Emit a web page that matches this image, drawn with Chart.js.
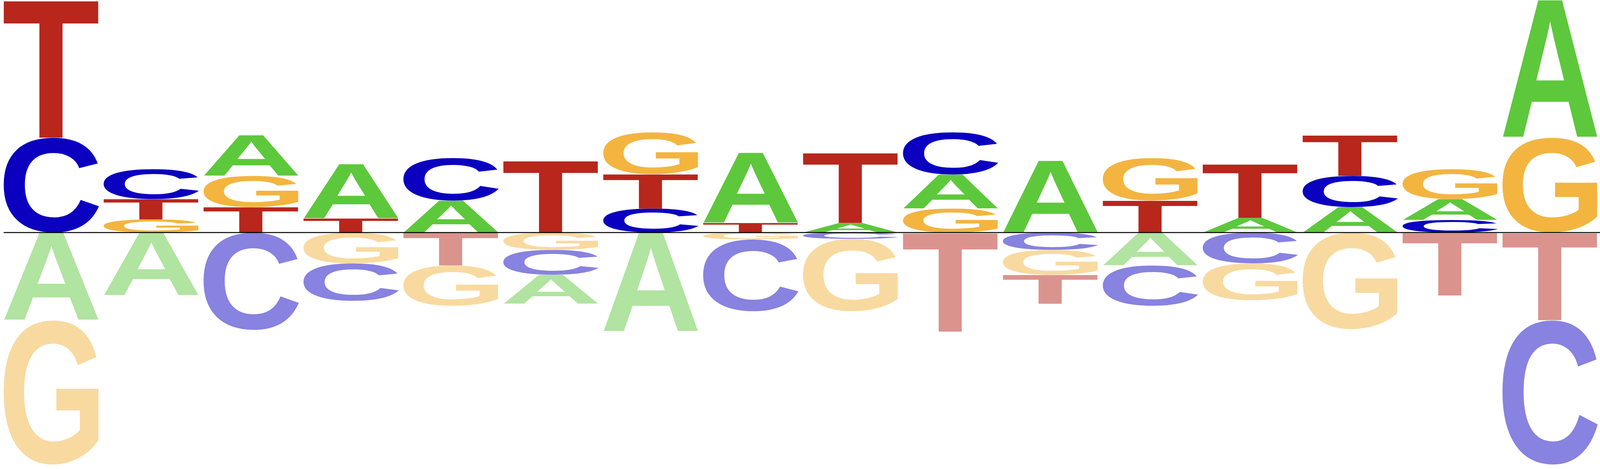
<!DOCTYPE html>
<html>
<head>
<meta charset="utf-8">
<title>Sequence logo</title>
<script src="https://cdn.jsdelivr.net/npm/chart.js@4"></script>
<style>
    html, body { margin: 0; padding: 0; background: #fff; overflow: hidden; }
    #wrap { width: 100vw; height: 100vh; position: relative; }
</style>
</head>
<body>
<div id="wrap"><canvas id="logoChart"></canvas></div>
<script>
// Positions along the motif
var positions = ['1', '2', '3', '4', '5', '6', '7', '8', '9', '10', '11', '12', '13', '14', '15', '16'];
var bases = ['A', 'C', 'G', 'T'];

// Letter heights above the line (bits)
var upA = [0, 0, 0.350, 0.468, 0.275, 0, 0, 0.605, 0.082, 0.293, 0.618, 0, 0.126, 0.219, 0.180, 1.184];
var upC = [0.816, 0.257, 0, 0, 0.366, 0, 0.206, 0, 0, 0.363, 0, 0, 0, 0.268, 0.108, 0];
var upG = [0, 0.113, 0.268, 0, 0, 0, 0.360, 0, 0, 0.206, 0, 0.366, 0, 0, 0.257, 0.816];
var upT = [1.184, 0.175, 0.219, 0.121, 0, 0.618, 0.296, 0.082, 0.605, 0, 0, 0.275, 0.463, 0.350, 0, 0];

// Letter heights below the line (bits)
var downA = [0.754, 0.541, 0, 0, 0, 0.250, 0.852, 0, 0, 0, 0, 0.283, 0, 0, 0, 0];
var downC = [0, 0, 0.837, 0.322, 0, 0.214, 0, 0.618, 0.054, 0, 0.149, 0.347, 0.265, 0, 0, 1.241];
var downG = [1.241, 0, 0, 0.265, 0.347, 0.149, 0, 0.059, 0.623, 0, 0.214, 0, 0.317, 0.831, 0, 0];
var downT = [0, 0, 0, 0, 0.283, 0, 0, 0, 0, 0.852, 0.250, 0, 0, 0, 0.541, 0.754];

var yMax = 2;

var upColors = { A: '#5dc83b', C: '#0b00bf', G: '#f3b540', T: '#b8261c' };
var downColors = { A: '#b0e4a0', C: '#8882e0', G: '#f8daa0', T: '#db938e' };

var upHeights = { A: upA, C: upC, G: upG, T: upT };
var downHeights = { A: downA, C: downC, G: downG, T: downT };

// Smallest letter sits next to the line, tallest furthest away
function stackRanges(heights, sign) {
    var out = {};
    bases.forEach(function (b) { out[b] = []; });
    positions.forEach(function (p, i) {
        var order = bases.filter(function (b) { return heights[b][i] > 0; });
        order.sort(function (a, b) { return heights[a][i] - heights[b][i]; });
        bases.forEach(function (b) { out[b][i] = null; });
        var cum = 0;
        order.forEach(function (b) {
            var h = heights[b][i];
            out[b][i] = sign > 0 ? [cum, cum + h] : [-(cum + h), -cum];
            cum += h;
        });
    });
    return out;
}

var upRanges = stackRanges(upHeights, 1);
var downRanges = stackRanges(downHeights, -1);

var datasets = [];
bases.forEach(function (b) {
    datasets.push({ label: b, letter: b, letterColor: upColors[b], data: upRanges[b] });
    datasets.push({ label: b + ' (below)', letter: b, letterColor: downColors[b], data: downRanges[b] });
});
datasets.forEach(function (ds) {
    ds.backgroundColor = 'rgba(0,0,0,0)';
    ds.borderWidth = 0;
    ds.categoryPercentage = 1;
    ds.barPercentage = 0.955;
});

// Stretch a glyph so its ink fills the box
function drawLetter(ctx, letter, color, left, top, w, h) {
    if (h < 0.3 || w < 0.3) return;
    ctx.save();
    ctx.font = 'bold 200px "Liberation Sans", Arial, sans-serif';
    ctx.textAlign = 'left';
    ctx.textBaseline = 'alphabetic';
    var m = ctx.measureText(letter);
    var gw = m.actualBoundingBoxLeft + m.actualBoundingBoxRight;
    var gh = m.actualBoundingBoxAscent + m.actualBoundingBoxDescent;
    ctx.translate(left, top);
    ctx.scale(w / gw, h / gh);
    ctx.fillStyle = color;
    ctx.fillText(letter, m.actualBoundingBoxLeft, m.actualBoundingBoxAscent);
    ctx.restore();
}

var letterPlugin = {
    id: 'letters',
    afterDatasetsDraw: function (chart) {
        var ctx = chart.ctx;
        var k = chart.width / 4800;
        chart.data.datasets.forEach(function (ds, di) {
            var meta = chart.getDatasetMeta(di);
            meta.data.forEach(function (bar, i) {
                if (!ds.data[i]) return;
                var p = bar.getProps(['x', 'y', 'base', 'width'], true);
                var top = Math.min(p.y, p.base);
                var h = Math.abs(p.base - p.y);
                drawLetter(ctx, ds.letter, ds.letterColor, p.x - p.width / 2, top, p.width, h);
            });
        });

        // zero line
        var y0 = chart.scales.y.getPixelForValue(0);
        ctx.save();
        ctx.strokeStyle = '#000';
        ctx.lineWidth = 3 * k;
        ctx.beginPath();
        ctx.moveTo(chart.chartArea.left + 7 * k, y0);
        ctx.lineTo(chart.chartArea.right, y0);
        ctx.stroke();
        ctx.restore();
    }
};

new Chart(document.getElementById('logoChart'), {
    type: 'bar',
    data: { labels: positions, datasets: datasets },
    options: {
        responsive: true,
        maintainAspectRatio: false,
        animation: false,
        layout: {
            padding: function (c) {
                var w = c.chart.width, h = c.chart.height;
                return { left: w * 4 / 4800, right: 0, top: 0, bottom: h * 10 / 1200 };
            }
        },
        plugins: {
            legend: { display: false },
            tooltip: { enabled: false },
            title: { display: false }
        },
        scales: {
            x: { stacked: true, display: false, grid: { display: false } },
            y: { stacked: false, display: false, min: -yMax, max: yMax, grid: { display: false } }
        }
    },
    plugins: [letterPlugin]
});
</script>
</body>
</html>
